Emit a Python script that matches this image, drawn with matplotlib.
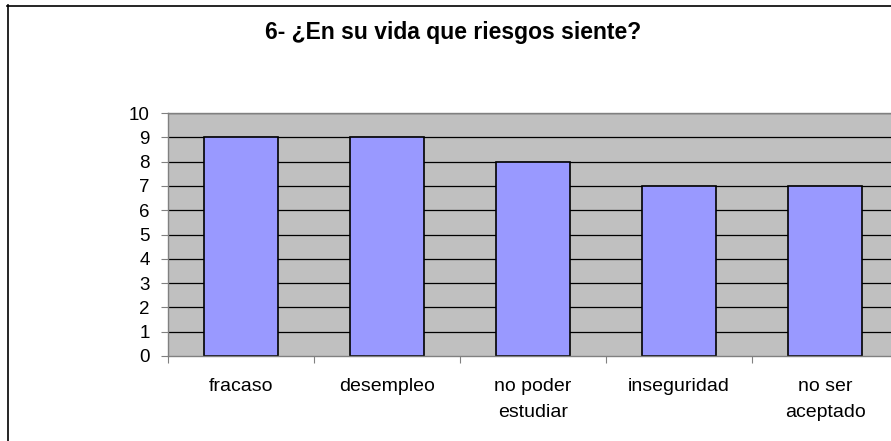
import numpy as np
import matplotlib
matplotlib.use("Agg")
import matplotlib.pyplot as plt
from matplotlib.lines import Line2D

categories = ["fracaso", "desempleo", "no poder\nestudiar", "inseguridad", "no ser\naceptado"]
values = [9, 9, 8, 7, 7]
yticks = list(range(0, 11))
title = "6- ¿En su vida que riesgos siente?"

plt.rcParams['font.family'] = ['Liberation Sans', 'DejaVu Sans']

W, H = 891, 441
fig = plt.figure(figsize=(W / 100, H / 100), dpi=100)
fig.patch.set_facecolor('white')

# outer chart frame (right and bottom are cut off)
fig.add_artist(Line2D([7.5 / W, 7.5 / W], [0, (H - 5) / H], color='black', lw=1.2, transform=fig.transFigure))
fig.add_artist(Line2D([7 / W, 1], [(H - 5.5) / H, (H - 5.5) / H], color='black', lw=1.2, transform=fig.transFigure))

left, right, bottom, top = 168 / W, 898 / W, (H - 356) / H, (H - 113) / H
ax = fig.add_axes([left, bottom, right - left, top - bottom])
ax.set_facecolor('#C0C0C0')

x = np.arange(len(categories)) + 0.5
ax.set_xlim(0, len(categories))
ax.set_ylim(0, 10)
ax.set_yticks(yticks)
for v in yticks[1:]:
    ax.axhline(v, color='black', lw=0.9, zorder=1)

ax.bar(x, values, width=0.51, color='#9999FF', edgecolor='black', linewidth=1.2, zorder=2)

ax.set_xticks(np.arange(len(categories) + 1))
ax.set_xticklabels([])
ax.set_xticks(x, minor=True)
ax.set_xticklabels(categories, minor=True, fontsize=14, linespacing=1.7, va='top')
ax.tick_params(axis='x', which='minor', length=0, pad=16)
ax.tick_params(axis='x', which='major', length=5, color='#808080', direction='out')
ax.tick_params(axis='y', length=5, color='#808080', direction='out', labelsize=13.5, pad=8)

for s in ax.spines.values():
    s.set_color('#808080')
    s.set_linewidth(1.0)

fig.text(453 / W, (H - 33) / H, title, ha='center', va='center', fontsize=16.5, fontweight='bold')

fig.savefig('out.png', dpi=100)
